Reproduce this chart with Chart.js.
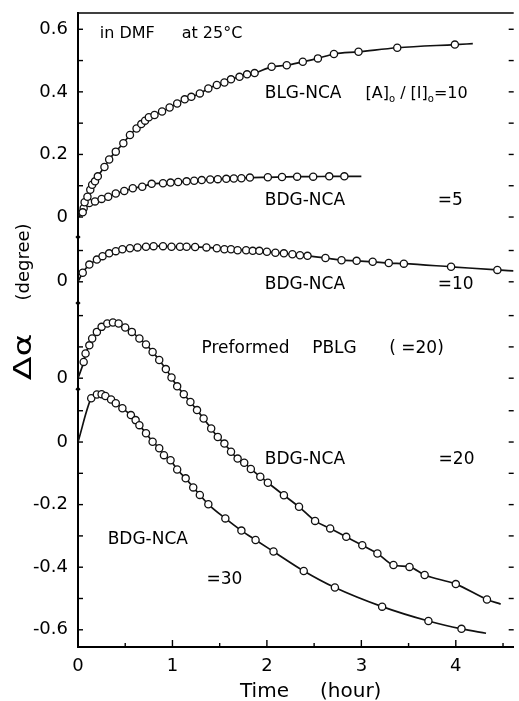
<!DOCTYPE html>
<html><head><meta charset="utf-8">
<script src="https://cdn.jsdelivr.net/npm/chart.js@4.4.1/dist/chart.umd.min.js"></script>
<style>html,body{margin:0;padding:0;background:#fff}canvas{display:block}</style>
</head><body>
<canvas id="c" width="519" height="701"></canvas>
<script>
// ---------- data (time in hours, Δα in degrees relative to each curve's own zero) ----------
const seriesNames = ['BLG-NCA 10', 'BDG-NCA 5', 'BDG-NCA 10', 'BDG-NCA 20', 'BDG-NCA 30'];

const t_blg10 = [0.05,0.07,0.10,0.13,0.15,0.18,0.21,0.28,0.33,0.40,0.48,0.55,0.62,0.67,0.71,0.75,0.81,0.89,0.97,1.05,1.13,1.20,1.29,1.38,1.47,1.55,1.62,1.71,1.79,1.87,2.05,2.21,2.38,2.54,2.71,2.97,3.38,3.99];
const v_blg10 = [0.015,0.047,0.065,0.087,0.103,0.114,0.130,0.160,0.184,0.209,0.236,0.262,0.283,0.297,0.308,0.319,0.326,0.337,0.350,0.363,0.376,0.384,0.395,0.411,0.422,0.430,0.440,0.448,0.456,0.460,0.480,0.485,0.496,0.507,0.521,0.528,0.541,0.551];

const t_bdg5 = [0.06,0.12,0.18,0.25,0.32,0.40,0.49,0.58,0.68,0.78,0.90,0.98,1.06,1.15,1.23,1.31,1.40,1.48,1.57,1.65,1.73,1.82,2.01,2.16,2.32,2.49,2.66,2.82];
const v_bdg5 = [0.028,0.045,0.050,0.058,0.065,0.075,0.083,0.092,0.097,0.106,0.108,0.110,0.112,0.114,0.116,0.118,0.120,0.121,0.122,0.123,0.124,0.126,0.127,0.128,0.129,0.129,0.130,0.130];

const t_bdg10 = [0.05,0.12,0.20,0.26,0.33,0.40,0.47,0.55,0.63,0.72,0.80,0.90,0.99,1.08,1.15,1.24,1.36,1.47,1.55,1.62,1.69,1.78,1.85,1.92,2.00,2.09,2.18,2.27,2.35,2.43,2.62,2.79,2.95,3.12,3.29,3.45,3.95,4.44];
const v_bdg10 = [0.029,0.055,0.071,0.082,0.091,0.098,0.104,0.107,0.110,0.112,0.114,0.114,0.112,0.112,0.112,0.111,0.110,0.107,0.104,0.104,0.101,0.101,0.099,0.099,0.096,0.093,0.091,0.088,0.085,0.083,0.076,0.069,0.067,0.064,0.060,0.058,0.048,0.038];

const t_bdg20 = [0.06,0.08,0.12,0.15,0.20,0.25,0.31,0.37,0.43,0.50,0.57,0.65,0.72,0.79,0.86,0.93,0.99,1.05,1.12,1.19,1.26,1.33,1.41,1.48,1.55,1.62,1.69,1.76,1.83,1.93,2.01,2.18,2.34,2.51,2.67,2.84,3.01,3.17,3.34,3.51,3.67,4.00,4.33];
const v_bdg20 = [0.052,0.079,0.105,0.127,0.148,0.164,0.175,0.178,0.175,0.162,0.148,0.127,0.108,0.084,0.058,0.029,0.002,-0.026,-0.051,-0.076,-0.102,-0.129,-0.161,-0.188,-0.209,-0.235,-0.257,-0.270,-0.290,-0.315,-0.334,-0.374,-0.411,-0.456,-0.480,-0.507,-0.534,-0.560,-0.597,-0.603,-0.629,-0.658,-0.707];

const t_bdg30 = [0.14,0.20,0.25,0.29,0.35,0.40,0.47,0.56,0.61,0.65,0.72,0.79,0.86,0.91,0.98,1.05,1.14,1.22,1.29,1.38,1.56,1.73,1.88,2.07,2.39,2.72,3.22,3.71,4.06];
const v_bdg30 = [0.140,0.152,0.153,0.147,0.136,0.124,0.108,0.086,0.070,0.054,0.028,0.001,-0.020,-0.042,-0.058,-0.088,-0.116,-0.145,-0.169,-0.199,-0.244,-0.283,-0.313,-0.350,-0.412,-0.465,-0.526,-0.572,-0.597];

// where each fitted curve ends (time, value)
const lineEndT = [4.18, 3.00, 4.61, 4.475, 4.32];
const lineEndV = [0.554, 0.130, 0.035, -0.722, -0.611];

// x tick labels
const xMajor = [0, 1, 2, 3, 4];
const xMinor = [0.5, 1.5, 2.5, 3.5, 4.5];

// y axis: stacked sub-scales, each with its own zero
const yGroupLabels = [[0.6, 0.4, 0.2, 0], [0], [0], [0, -0.2, -0.4, -0.6]];
const yGroupMinor  = [[0.5, 0.3, 0.1], [0.1], [0.1, 0.2], [0.1, -0.1, -0.3, -0.5]];
const curveGroup   = [0, 0, 1, 2, 3];

// ---------- layout ----------
const groupOffset = [0.719, 0.512, 0.204, 0];   // vertical shift of each sub-scale (display units)
const breakMarks = [0.655, 0.444, 0.169];      // axis-break marks between sub-scales
const X_MIN = 0, X_MAX = 4.613, Y_MIN = -0.655, Y_MAX = 1.371;
const FONT = 'DejaVu Sans';

const times = [t_blg10, t_bdg5, t_bdg10, t_bdg20, t_bdg30];
const vals  = [v_blg10, v_bdg5, v_bdg10, v_bdg20, v_bdg30];

const datasets = [];
times.forEach((ts, i) => {
  const off = groupOffset[curveGroup[i]];
  const pts = ts.map((t, k) => ({x: t, y: vals[i][k] + off}));
  datasets.push({
    label: seriesNames[i] + ' fit', showLine: true, order: 2,
    data: [{x: 0, y: off}].concat(pts, [{x: lineEndT[i], y: lineEndV[i] + off}]),
    borderColor: '#111', borderWidth: 1.7, pointRadius: 0,
    cubicInterpolationMode: 'monotone', fill: false
  });
  datasets.push({
    label: seriesNames[i], showLine: false, order: 1, data: pts,
    pointRadius: 3.6, pointBorderWidth: 1.3, pointBackgroundColor: '#fff', pointBorderColor: '#111'
  });
});
datasets.push({
  label: 'breaks', showLine: false, order: 0, clip: false,
  data: breakMarks.map(v => ({x: 0, y: v})),
  pointStyle: 'rectRot', pointRadius: 2.6, pointBackgroundColor: '#000', pointBorderColor: '#000', pointBorderWidth: 0
});

// y tick list
const yTicks = [];
yGroupLabels.forEach((arr, g) => arr.forEach(v => yTicks.push({value: +(v + groupOffset[g]).toFixed(4), label: v === 0 ? '0' : v.toFixed(1)})));
yTicks.sort((a, b) => a.value - b.value);

// annotations (x in hours, y in display units)
const notes = [
  {t: 'in DMF', x: 0.230, y: 1.311, s: 16},
  {t: 'at 25°C', x: 1.098, y: 1.311, s: 16},
  {t: 'BLG-NCA', x: 1.977, y: 1.119, s: 17},
  {t: 'BDG-NCA', x: 1.977, y: 0.776, s: 17},
  {t: '=5', x: 3.808, y: 0.776, s: 17},
  {t: 'BDG-NCA', x: 1.977, y: 0.509, s: 17},
  {t: '=10', x: 3.808, y: 0.509, s: 17},
  {t: 'Preformed', x: 1.308, y: 0.304, s: 17},
  {t: 'PBLG', x: 2.479, y: 0.304, s: 17},
  {t: '( =20)', x: 3.295, y: 0.304, s: 17},
  {t: 'BDG-NCA', x: 1.977, y: -0.051, s: 17},
  {t: '=20', x: 3.818, y: -0.051, s: 17},
  {t: 'BDG-NCA', x: 0.314, y: -0.307, s: 17},
  {t: '=30', x: 1.360, y: -0.435, s: 17}
];
const ratioNote = {x: 3.044, y: 1.118};

const decor = {
  id: 'decor',
  afterDraw(chart) {
    const {ctx, chartArea: a, scales: {x, y}} = chart;
    ctx.save();
    ctx.strokeStyle = '#000';
    ctx.lineWidth = 1.6;
    ctx.beginPath(); ctx.moveTo(a.left, a.top); ctx.lineTo(a.right, a.top); ctx.stroke();
    ctx.lineWidth = 1.4;
    // inner ticks on y (left and right)
    yGroupLabels.forEach((arr, g) => {
      arr.concat(yGroupMinor[g]).forEach(v => {
        const py = y.getPixelForValue(v + groupOffset[g]);
        ctx.beginPath(); ctx.moveTo(a.left, py); ctx.lineTo(a.left + 5, py); ctx.stroke();
        ctx.beginPath(); ctx.moveTo(a.right, py); ctx.lineTo(a.right - 5, py); ctx.stroke();
      });
    });
    // inner ticks on x
    xMajor.forEach(v => { const px = x.getPixelForValue(v); ctx.beginPath(); ctx.moveTo(px, a.bottom); ctx.lineTo(px, a.bottom - 7); ctx.stroke(); });
    xMinor.forEach(v => { const px = x.getPixelForValue(v); ctx.beginPath(); ctx.moveTo(px, a.bottom); ctx.lineTo(px, a.bottom - 4); ctx.stroke(); });

    ctx.fillStyle = '#000';
    ctx.textAlign = 'left';
    ctx.textBaseline = 'alphabetic';
    notes.forEach(n => {
      ctx.font = n.s + 'px "' + FONT + '"';
      ctx.fillText(n.t, x.getPixelForValue(n.x), y.getPixelForValue(n.y) + n.s * 0.36);
    });
    // [A]o / [I]o =10
    let px = x.getPixelForValue(ratioNote.x);
    const base = y.getPixelForValue(ratioNote.y) + 16 * 0.36;
    const parts = [['[A]', 16, 0], ['o', 10, 4], [' / ', 16, 0], ['[I]', 16, 0], ['o', 10, 4], ['=10', 16, 0]];
    parts.forEach(p => {
      ctx.font = p[1] + 'px "' + FONT + '"';
      ctx.fillText(p[0], px, base + p[2]);
      px += ctx.measureText(p[0]).width;
    });
    // x title
    ctx.font = '20px "' + FONT + '"';
    ctx.fillText('Time', 240, 697);
    ctx.fillText('(hour)', 320, 697);
    // y title
    ctx.save();
    ctx.translate(24, 262);
    ctx.rotate(-Math.PI / 2);
    ctx.textAlign = 'center'; ctx.textBaseline = 'middle';
    ctx.font = '18px "' + FONT + '"';
    ctx.fillText('(degree)', 0, 0);
    ctx.restore();
    ctx.save();
    ctx.translate(25, 357);
    ctx.rotate(-Math.PI / 2);
    ctx.scale(1.45, 1);
    ctx.textAlign = 'center'; ctx.textBaseline = 'middle';
    ctx.font = '24px "' + FONT + '"';
    ctx.fillText('Δα', 0, 0);
    ctx.restore();
    ctx.restore();
  }
};

new Chart(document.getElementById('c'), {
  type: 'scatter',
  data: {datasets},
  options: {
    responsive: false, animation: false, devicePixelRatio: 1,
    layout: {padding: {top: 13, right: 0, left: 0, bottom: 0}},
    plugins: {legend: {display: false}, tooltip: {enabled: false}},
    scales: {
      x: {
        type: 'linear', min: X_MIN, max: X_MAX,
        afterBuildTicks(s) { s.ticks = xMajor.map(v => ({value: v})); },
        afterFit(s) { s.height = 54; s.paddingLeft = 0; s.paddingRight = 0; },
        ticks: {autoSkip: false, maxRotation: 0, padding: 9, color: '#000', font: {family: FONT, size: 18},
                callback: v => String(v)},
        grid: {display: false, drawTicks: false},
        border: {display: true, color: '#000', width: 2}
      },
      y: {
        type: 'linear', min: Y_MIN, max: Y_MAX,
        afterBuildTicks(s) { s.ticks = yTicks.map(o => ({value: o.value})); },
        afterFit(s) { s.width = 78; s.paddingTop = 0; s.paddingBottom = 0; },
        ticks: {autoSkip: false, padding: 10, color: '#000', font: {family: FONT, size: 18},
                callback: (v, i) => yTicks[i] ? yTicks[i].label : ''},
        grid: {display: false, drawTicks: false},
        border: {display: true, color: '#000', width: 2}
      }
    }
  },
  plugins: [decor]
});
</script>
</body></html>
